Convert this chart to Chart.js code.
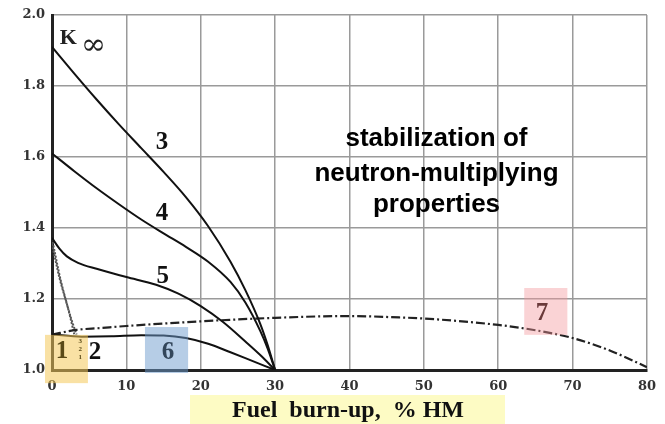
<!DOCTYPE html>
<html>
<head>
<meta charset="utf-8">
<script src="https://cdn.jsdelivr.net/npm/chart.js@4.4.1/dist/chart.umd.min.js"></script>
<style>
  html, body { margin: 0; padding: 0; background: #fff; }
  #wrap { width: 665px; height: 424px; position: relative; }
</style>
</head>
<body>
<div id="wrap"><canvas id="c" width="665" height="424"></canvas></div>
<script>
// ---- data ----
const xTicks = [0, 10, 20, 30, 40, 50, 60, 70, 80];
const yTicks = [1.0, 1.2, 1.4, 1.6, 1.8, 2.0];

const curve3X = [0, 3, 6, 9, 12, 15, 18, 21, 24, 26, 28, 29, 30];
const curve3Y = [1.91, 1.835, 1.762, 1.692, 1.625, 1.558, 1.487, 1.405, 1.305, 1.225, 1.13, 1.07, 1.0];

const curve4X = [0, 3, 6, 9, 12, 15, 18, 21, 24, 26, 28, 29, 30];
const curve4Y = [1.61, 1.56, 1.512, 1.467, 1.424, 1.385, 1.347, 1.305, 1.248, 1.19, 1.11, 1.06, 1.0];

const curve5X = [0, 1, 2, 3.5, 6, 10, 14, 17, 20, 23, 26, 28, 30];
const curve5Y = [1.372, 1.342, 1.32, 1.302, 1.285, 1.262, 1.24, 1.215, 1.18, 1.135, 1.08, 1.042, 1.0];

const curve6X = [0, 4, 8, 12, 15, 18, 21, 24, 27, 30];
const curve6Y = [1.10, 1.094, 1.095, 1.098, 1.097, 1.09, 1.074, 1.05, 1.025, 1.0];

const curve7X = [0, 3.3, 6.4, 10, 20, 30, 40, 46.7, 50, 60, 65, 70, 75, 80];
const curve7Y = [1.10, 1.113, 1.118, 1.124, 1.137, 1.147, 1.152, 1.148, 1.145, 1.127, 1.112, 1.09, 1.055, 1.008];

const curve1X = [0, 1.2, 2.5, 3.3];
const curve1Y = [1.37, 1.25, 1.15, 1.10];
const curve2X = [0, 1.0, 2.2, 3.0];
const curve2Y = [1.355, 1.26, 1.17, 1.10];

const xTitle = 'Fuel  burn-up,  % HM';
const noteLines = ['stabilization of', 'neutron-multiplying', 'properties'];

function pts(xs, ys) { return xs.map((x, i) => ({ x: x, y: ys[i] })); }

const solid = { borderColor: '#111', borderWidth: 2, pointRadius: 0, cubicInterpolationMode: 'monotone', fill: false };

const labelPlugin = {
  id: 'labels',
  afterDraw(chart) {
    const ctx = chart.ctx;
    const xs = chart.scales.x, ys = chart.scales.y;
    const px = v => xs.getPixelForValue(v);
    const py = v => ys.getPixelForValue(v);
    ctx.save();
    const boxes = [
      { x0: -0.94, x1: 4.83, y0: 1.099, y1: 0.963, c: 'rgba(244,200,90,0.55)' },
      { x0: 12.5, x1: 18.3, y0: 1.121, y1: 0.9915, c: 'rgba(110,155,205,0.5)' },
      { x0: 63.5, x1: 69.3, y0: 1.231, y1: 1.099, c: 'rgba(242,150,155,0.42)' }
    ];
    boxes.forEach(b => {
      ctx.fillStyle = b.c;
      ctx.fillRect(px(b.x0), py(b.y0), px(b.x1) - px(b.x0), py(b.y1) - py(b.y0));
    });
    ctx.textAlign = 'center';
    ctx.textBaseline = 'middle';
    const nums = [
      { t: '3', x: 14.8, y: 1.64, c: '#111' },
      { t: '4', x: 14.8, y: 1.442, c: '#111' },
      { t: '5', x: 14.9, y: 1.262, c: '#111' },
      { t: '6', x: 15.6, y: 1.048, c: '#33465a' },
      { t: '1', x: 1.34, y: 1.051, c: '#5a4a18' },
      { t: '2', x: 5.77, y: 1.048, c: '#111' },
      { t: '7', x: 65.9, y: 1.16, c: '#6a3a3a' }
    ];
    ctx.font = 'bold 25px "Liberation Serif"';
    nums.forEach(n => { ctx.fillStyle = n.c; ctx.fillText(n.t, px(n.x), py(n.y)); });
    ctx.font = 'bold 7px "Liberation Serif"';
    ctx.fillStyle = '#5a4a18';
    ['3', '2', '1'].forEach((t, i) => ctx.fillText(t, px(3.8), py(1.08 - i * 0.022)));
    // K infinity
    ctx.fillStyle = '#222';
    ctx.font = 'bold 22px "Liberation Serif"';
    ctx.textAlign = 'left';
    ctx.fillText('K', px(1.05), py(1.935));
    ctx.font = '30px "DejaVu Serif"';
    ctx.fillText('\u221E', px(3.9), py(1.912));
    // note text
    ctx.textAlign = 'center';
    ctx.fillStyle = '#000';
    ctx.font = 'bold 26px "Liberation Sans"';
    const cx = px(51.7);
    [1.65, 1.552, 1.465].forEach((yy, i) => ctx.fillText(noteLines[i], cx, py(yy)));
    // x title with yellow band
    ctx.fillStyle = '#fdfbc4';
    ctx.fillRect(190, 395, 315, 29);
    ctx.fillStyle = '#111';
    ctx.font = 'bold 24px "Liberation Serif"';
    ctx.fillText(xTitle, 348, 411);
    ctx.restore();
  }
};

const tickFont = { family: 'DejaVu Serif', weight: 'bold', size: 13 };

new Chart(document.getElementById('c'), {
  type: 'line',
  data: {
    datasets: [
      Object.assign({ data: pts(curve3X, curve3Y) }, solid),
      Object.assign({ data: pts(curve4X, curve4Y) }, solid),
      Object.assign({ data: pts(curve5X, curve5Y) }, solid),
      Object.assign({ data: pts(curve6X, curve6Y) }, solid),
      { data: pts(curve7X, curve7Y), borderColor: '#222', borderWidth: 2.2, borderDash: [9, 3, 2, 3], pointRadius: 0, cubicInterpolationMode: 'monotone', fill: false },
      { data: pts(curve1X, curve1Y), borderColor: '#555', borderWidth: 2, borderDash: [2, 1.5], pointRadius: 0, tension: 0.3, fill: false },
      { data: pts(curve2X, curve2Y), borderColor: '#555', borderWidth: 2, borderDash: [2, 1.5], pointRadius: 0, tension: 0.3, fill: false }
    ]
  },
  options: {
    responsive: false,
    animation: false,
    layout: { padding: { top: 15, right: 17, left: 0, bottom: 0 } },
    plugins: { legend: { display: false }, tooltip: { enabled: false } },
    scales: {
      x: {
        type: 'linear', min: 0, max: 80,
        afterBuildTicks: s => { s.ticks = xTicks.map(v => ({ value: v })); },
        afterFit: s => { s.height = 54; },
        grid: { color: '#9a9a9a', lineWidth: 1.5, drawTicks: false },
        border: { color: '#222', width: 3 },
        ticks: { padding: 9, color: '#333', font: tickFont, maxRotation: 0 }
      },
      y: {
        type: 'linear', min: 1.0, max: 2.0,
        afterBuildTicks: s => { s.ticks = yTicks.map(v => ({ value: v })); },
        afterFit: s => { s.width = 52; },
        grid: { color: '#9a9a9a', lineWidth: 1.5, drawTicks: false },
        border: { color: '#222', width: 3 },
        ticks: { padding: 7, color: '#333', font: tickFont, callback: v => Number(v).toFixed(1) }
      }
    }
  },
  plugins: [labelPlugin]
});
</script>
</body>
</html>
